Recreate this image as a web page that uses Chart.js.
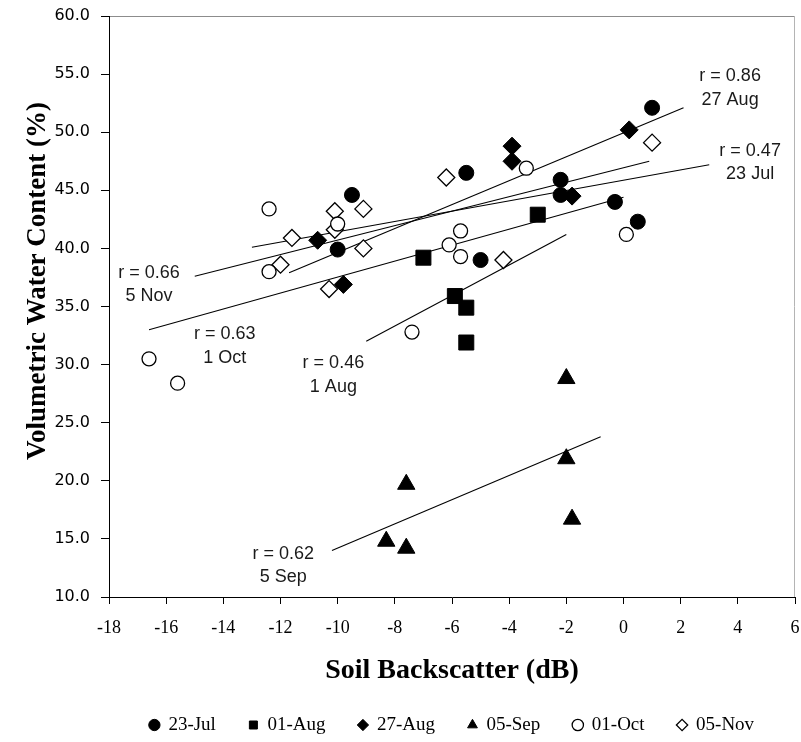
<!DOCTYPE html>
<html>
<head>
<meta charset="utf-8">
<script src="https://cdn.jsdelivr.net/npm/chart.js@4.4.1/dist/chart.umd.min.js"></script>
<style>
html, body { margin: 0; padding: 0; background: #fff; }
</style>
</head>
<body>
<canvas id="grafico" width="801" height="742"></canvas>
<script>
"use strict";
// datas das campanhas (legenda)
const dias = ['23-Jul', '01-Aug', '27-Aug', '05-Sep', '01-Oct', '05-Nov'];

// pontos [backscatter dB, umidade %]
const jul23 = [[1.0, 52.1], [-9.5, 44.6], [-10.0, 39.9], [-5.5, 46.5], [-2.2, 45.9], [-2.2, 44.6], [-0.3, 44.0], [0.5, 42.3], [-5.0, 39.0]];
const ago01 = [[-7.0, 39.2], [-3.0, 42.9], [-5.9, 35.9], [-5.5, 34.9], [-5.5, 31.9]];
const ago27 = [[-10.7, 40.7], [-9.8, 36.9], [0.2, 50.2], [-3.9, 48.8], [-3.9, 47.5], [-1.8, 44.5]];
const set05 = [[-2.0, 28.8], [-2.0, 21.9], [-1.8, 16.7], [-7.6, 19.7], [-8.3, 14.8], [-7.6, 14.2]];
const out01 = [[-12.4, 43.4], [-10.0, 42.1], [-12.4, 38.0], [-5.7, 41.5], [-6.1, 40.3], [-5.7, 39.3], [-3.4, 46.9], [0.1, 41.2], [-16.6, 30.5], [-15.6, 28.4], [-7.4, 32.8]];
const nov05 = [[-10.1, 43.2], [-9.1, 43.4], [-10.1, 41.6], [-11.6, 40.9], [-9.1, 40.0], [-12.0, 38.6], [-10.3, 36.5], [-6.2, 46.1], [1.0, 49.1], [-4.2, 39.0]];

// retas de regressao (inicio e fim)
const retaJul23 = [[-13.0, 40.1], [3.0, 47.2]];
const retaAgo27 = [[-11.7, 37.9], [2.1, 52.1]];
const retaNov05 = [[-15.0, 37.6], [0.9, 47.5]];
const retaOut01 = [[-16.6, 33.0], [0.0, 44.4]];
const retaAgo01 = [[-9.0, 32.0], [-2.0, 41.2]];
const retaSet05 = [[-10.2, 14.0], [-0.8, 23.8]];

// textos r / data, ancorados em coordenadas do grafico
const rotulos = [
    ['r = 0.86', '27 Aug', 3.73, 54.8],
    ['r = 0.47', '23 Jul', 4.43, 48.4],
    ['r = 0.66', '5 Nov', -16.6, 37.9],
    ['r = 0.63', '1 Oct', -13.95, 32.6],
    ['r = 0.46', '1 Aug', -10.15, 30.1],
    ['r = 0.62', '5 Sep', -11.9, 13.7]
];

const xTicks = [-18, -16, -14, -12, -10, -8, -6, -4, -2, 0, 2, 4, 6];
const yTicks = [10, 15, 20, 25, 30, 35, 40, 45, 50, 55, 60];
const tituloY = 'Volumetric Water Content (%)';
const tituloX = 'Soil Backscatter (dB)';

const serif = '"Liberation Serif", "Times New Roman", serif';

function pts(arr) {
    return arr.map(function (p) { return {x: p[0], y: p[1]}; });
}

function marcador(label, arr, estilo, raio, cheio, borda) {
    return {
        label: label,
        data: pts(arr),
        pointStyle: estilo,
        pointRadius: raio,
        pointHoverRadius: raio,
        backgroundColor: cheio ? '#000' : '#fff',
        pointBackgroundColor: cheio ? '#000' : '#fff',
        borderColor: '#000',
        pointBorderColor: '#000',
        borderWidth: borda,
        pointBorderWidth: borda,
        showLine: false,
        order: 1
    };
}

function reta(arr) {
    return {
        label: 'trend',
        data: pts(arr),
        showLine: true,
        borderColor: '#000',
        borderWidth: 1.1,
        pointRadius: 0,
        fill: false,
        order: 2
    };
}

const moldura = {
    id: 'moldura',
    beforeDraw: function (chart) {
        var ctx = chart.ctx, a = chart.chartArea;
        ctx.save();
        ctx.fillStyle = '#fff';
        ctx.fillRect(0, 0, chart.width, chart.height);
        ctx.lineWidth = 1;
        ctx.strokeStyle = '#8c8c8c';
        ctx.beginPath();
        ctx.moveTo(a.left, a.top + 0.5);
        ctx.lineTo(a.right, a.top + 0.5);
        ctx.stroke();
        ctx.strokeStyle = '#b4b4b4';
        ctx.beginPath();
        ctx.moveTo(a.right - 0.5, a.top);
        ctx.lineTo(a.right - 0.5, a.bottom);
        ctx.stroke();
        ctx.restore();
    },
    afterDatasetsDraw: function (chart) {
        var ctx = chart.ctx, sx = chart.scales.x, sy = chart.scales.y;
        ctx.save();
        ctx.font = '18px "Liberation Sans", Arial, sans-serif';
        ctx.fillStyle = '#1a1a1a';
        ctx.textAlign = 'center';
        ctx.textBaseline = 'middle';
        rotulos.forEach(function (r) {
            var px = sx.getPixelForValue(r[2]);
            var py = sy.getPixelForValue(r[3]);
            ctx.fillText(r[0], px, py);
            ctx.fillText(r[1], px, py + 23.5);
        });
        // titulo do eixo y, um pouco acima do centro como no original
        ctx.font = 'bold 27px ' + serif;
        ctx.fillStyle = '#000';
        ctx.translate(38, 281);
        ctx.rotate(-Math.PI / 2);
        ctx.fillText(tituloY, 0, 0);
        ctx.restore();
    }
};

var ctx = document.getElementById('grafico').getContext('2d');
var grafico = new Chart(ctx, {
    type: 'scatter',
    data: {
        datasets: [
            marcador(dias[0], jul23, 'circle', 7.5, true, 1),
            marcador(dias[1], ago01, 'rect', 10.6, true, 1),
            marcador(dias[2], ago27, 'rectRot', 9, true, 1),
            marcador(dias[3], set05, 'triangle', 10, true, 1),
            marcador(dias[4], out01, 'circle', 7, false, 1.3),
            marcador(dias[5], nov05, 'rectRot', 8.5, false, 1.3),
            reta(retaJul23),
            reta(retaAgo27),
            reta(retaNov05),
            reta(retaOut01),
            reta(retaAgo01),
            reta(retaSet05)
        ]
    },
    plugins: [moldura],
    options: {
        responsive: false,
        animation: false,
        devicePixelRatio: 1,
        layout: {
            autoPadding: false,
            padding: {top: 16, right: 6, left: 0, bottom: -2.5}
        },
        plugins: {
            tooltip: {enabled: false},
            legend: {
                position: 'bottom',
                fullSize: false,
                labels: {
                    filter: function (item) { return item.datasetIndex < 6; },
                    usePointStyle: true,
                    boxHeight: 8,
                    boxWidth: 9,
                    padding: 33,
                    color: '#000',
                    font: {family: serif, size: 19}
                }
            }
        },
        scales: {
            x: {
                type: 'linear',
                min: -18,
                max: 6,
                afterBuildTicks: function (s) { s.ticks = xTicks.map(function (v) { return {value: v}; }); },
                afterFit: function (s) { s.height = 85.5; s.paddingLeft = 0; s.paddingRight = 0; },
                grid: {drawOnChartArea: false, drawTicks: true, tickLength: 7, color: '#000', lineWidth: 1},
                border: {display: true, color: '#000', width: 1},
                ticks: {
                    color: '#000',
                    padding: 13,
                    maxRotation: 0,
                    autoSkip: false,
                    font: {family: serif, size: 18}
                },
                title: {
                    display: true,
                    text: tituloX,
                    color: '#000',
                    padding: {top: 0, bottom: -5.3},
                    font: {family: serif, size: 28, weight: 'bold'}
                }
            },
            y: {
                type: 'linear',
                min: 10,
                max: 60,
                afterBuildTicks: function (s) { s.ticks = yTicks.map(function (v) { return {value: v}; }); },
                afterFit: function (s) { s.width = 109; s.paddingTop = 0; s.paddingBottom = 0; },
                grid: {drawOnChartArea: false, drawTicks: true, tickLength: 8, color: '#000', lineWidth: 1},
                border: {display: true, color: '#000', width: 1},
                ticks: {
                    color: '#000',
                    padding: 11,
                    autoSkip: false,
                    callback: function (v) { return Number(v).toFixed(1); },
                    font: {family: '"DejaVu Sans", sans-serif', size: 16}
                }
            }
        }
    }
});
</script>
</body>
</html>
